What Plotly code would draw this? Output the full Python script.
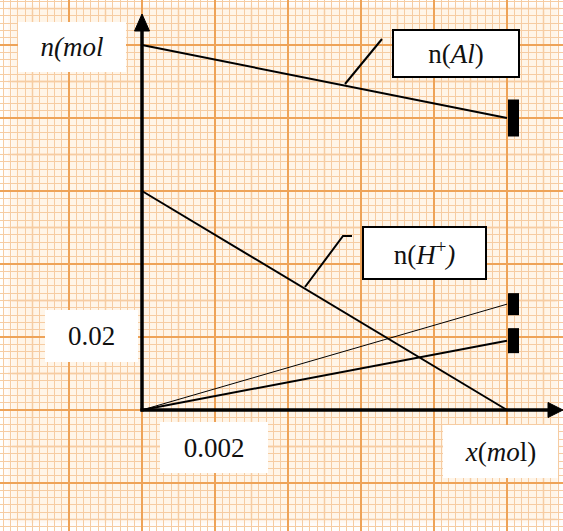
import plotly.graph_objects as go

# ---- data ----
x_vals = [0.0, 0.010]
n_Al = [0.10, 0.08]
n_H = [0.06, 0.0]
n_H2 = [0.0, 0.029]
n_Al3 = [0.0, 0.019]

labels = {
    "ylab": "<i>n(mol</i>",
    "xlab": "<i>x</i>(<i>mo</i>l)",
    "ytick": "0.02",
    "xtick": "0.002",
    "al": "n(<i>Al</i>)",
    "h": "n(<i>H</i><sup>+</sup><i>)</i>",
}

W, H = 563, 531
# pixel geometry of the graph paper
X0_PX, Y0_PX, CM = 142.0, 410.0, 73.0
XU, YU = 0.002, 0.02  # data per major square


def px2x(p):
    return (p - X0_PX) / CM * XU


def px2y(p):
    return (Y0_PX - p) / CM * YU


def px(p):
    return p / W


def py(p):
    return 1 - p / H


fig = go.Figure()

fig.add_trace(go.Scatter(x=x_vals, y=n_Al, mode="lines", line=dict(color="black", width=2)))
fig.add_trace(go.Scatter(x=x_vals, y=n_H, mode="lines", line=dict(color="black", width=2)))
fig.add_trace(go.Scatter(x=x_vals, y=n_H2, mode="lines", line=dict(color="black", width=1)))
fig.add_trace(go.Scatter(x=x_vals, y=n_Al3, mode="lines", line=dict(color="black", width=2)))

shapes = []
MED = "#F1B476"
xr = (px2x(0), px2x(W))
yr = (px2y(H), px2y(0))
k = -5
while k < 15:
    xv = (k + 0.5) * XU
    if xr[0] < xv < xr[1]:
        shapes.append(dict(type="line", xref="x", yref="paper", x0=xv, x1=xv, y0=0, y1=1,
                           line=dict(color=MED, width=1.3), layer="between"))
    yv = (k + 0.5) * YU
    if yr[0] < yv < yr[1]:
        shapes.append(dict(type="line", xref="paper", yref="y", x0=0, x1=1, y0=yv, y1=yv,
                           line=dict(color=MED, width=1.3), layer="between"))
    k += 1

# edge fade
for i, op in enumerate([0.85, 0.6, 0.35, 0.15]):
    d = 4 * (i + 1)
    shapes.append(dict(type="rect", xref="paper", yref="paper", x0=0, x1=px(d), y0=0, y1=1,
                       fillcolor="white", opacity=op, line=dict(width=0), layer="between"))
    shapes.append(dict(type="rect", xref="paper", yref="paper", x0=0, x1=1, y0=py(d * 0.7), y1=1,
                       fillcolor="white", opacity=op, line=dict(width=0), layer="between"))
    shapes.append(dict(type="rect", xref="paper", yref="paper", x0=0, x1=1, y0=0, y1=py(H - d),
                       fillcolor="white", opacity=op, line=dict(width=0), layer="between"))
    shapes.append(dict(type="rect", xref="paper", yref="paper", x0=px(W - d * 0.5), x1=1, y0=0, y1=1,
                       fillcolor="white", opacity=op, line=dict(width=0), layer="between"))

# axes with arrows
shapes.append(dict(type="line", xref="paper", yref="paper", x0=px(142), x1=px(142), y0=py(411.5), y1=py(28),
                   line=dict(color="black", width=3.5), layer="above"))
shapes.append(dict(type="line", xref="paper", yref="paper", x0=px(140.5), x1=px(550), y0=py(410), y1=py(410),
                   line=dict(color="black", width=3.5), layer="above"))
shapes.append(dict(type="path", xref="paper", yref="paper",
                   path=f"M {px(134.5)} {py(31)} L {px(149.5)} {py(31)} L {px(142)} {py(14)} Z",
                   fillcolor="black", line=dict(color="black", width=1), layer="above"))
shapes.append(dict(type="path", xref="paper", yref="paper",
                   path=f"M {px(548)} {py(402.5)} L {px(548)} {py(417.5)} L {px(563)} {py(410)} Z",
                   fillcolor="black", line=dict(color="black", width=1), layer="above"))

# end markers (black bars) at the end of lines
for ys, hpx in [(n_Al, 37), (n_H2, 22), (n_Al3, 25)]:
    xe = x_vals[-1]
    ye = ys[-1]
    shapes.append(dict(type="rect", xref="x", yref="y",
                       x0=xe + 1 / CM * XU, x1=xe + 12 / CM * XU,
                       y0=ye - hpx / 2 / CM * YU, y1=ye + hpx / 2 / CM * YU,
                       fillcolor="black", line=dict(width=0), layer="above"))

# leader lines
shapes.append(dict(type="line", xref="paper", yref="paper", x0=px(345), y0=py(84), x1=px(382), y1=py(39),
                   line=dict(color="black", width=2), layer="above"))
shapes.append(dict(type="path", xref="paper", yref="paper",
                   path=f"M {px(305)} {py(287)} L {px(343)} {py(236)} L {px(352)} {py(236)}",
                   line=dict(color="black", width=2), layer="above"))

fig.update_layout(shapes=shapes)

font = dict(family="Liberation Serif", size=27, color="#111")


def box(text, cx, cy, w, h, border=False):
    fig.add_annotation(
        text=text, xref="paper", yref="paper", x=px(cx), y=py(cy),
        xanchor="center", yanchor="middle", showarrow=False,
        width=w, height=h, bgcolor="white", borderpad=0,
        bordercolor="black" if border else "rgba(0,0,0,0)", borderwidth=2 if border else 0,
        font=font, align="center", valign="middle",
    )


box(labels["ylab"], 72, 47, 108, 50)
box(labels["ytick"], 91.5, 336, 93, 52)
box(labels["xtick"], 214, 447.5, 108, 51)
box(labels["xlab"], 500, 451.5, 115, 53)
box(labels["al"], 456, 53.5, 124, 45, border=True)
box(labels["h"], 424.5, 253, 121, 50, border=True)

fig.update_layout(
    width=W, height=H, margin=dict(l=0, r=0, t=0, b=0),
    paper_bgcolor="white", plot_bgcolor="#FFF5E8",
    showlegend=False,
    xaxis=dict(range=list(xr), dtick=XU, tick0=0, showgrid=True, gridcolor="#EEA358", gridwidth=1.8,
               zeroline=False, showticklabels=False, ticks="", showline=False, fixedrange=True,
               minor=dict(dtick=XU / 10, tick0=0, showgrid=True, gridcolor="#F6CCA2", gridwidth=1)),
    yaxis=dict(range=list(yr), dtick=YU, tick0=0, showgrid=True, gridcolor="#EEA358", gridwidth=1.8,
               zeroline=False, showticklabels=False, ticks="", showline=False, fixedrange=True,
               minor=dict(dtick=YU / 10, tick0=0, showgrid=True, gridcolor="#F6CCA2", gridwidth=1)),
)

fig.write_html("out.html", config={"displayModeBar": False},
               post_script="document.body.style.margin='0';document.body.style.overflow='hidden';")
